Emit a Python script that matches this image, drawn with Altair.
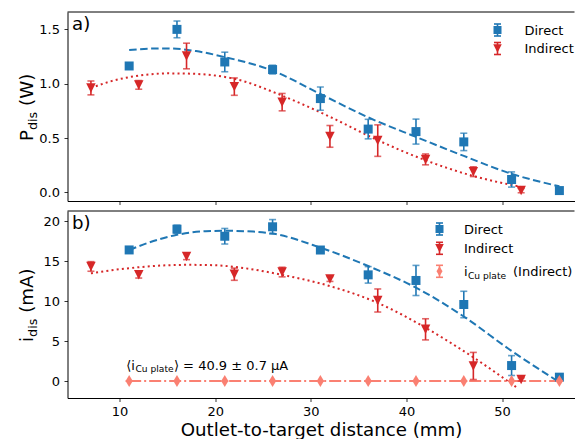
import altair as alt
import pandas as pd

FONT = "DejaVu Sans"
BLUE = "#1f77b4"
RED = "#d62728"
SALMON = "#fa8072"

# ---------------- data ----------------
x_direct = [11, 16, 21, 26, 31, 36, 41, 46, 51, 56]
x_indirect = [7, 12, 17, 22, 27, 32, 37, 42, 47, 52]
x_cu = [11, 16, 21, 26, 31, 36, 41, 46, 51, 56]

P_direct = [1.163, 1.50, 1.20, 1.13, 0.863, 0.582, 0.559, 0.464, 0.118, 0.016]
P_direct_err = [0.02, 0.077, 0.09, 0.04, 0.107, 0.09, 0.115, 0.08, 0.07, 0.015]
P_indirect = [0.961, 0.989, 1.255, 0.973, 0.83, 0.515, 0.476, 0.303, 0.19, 0.016]
P_indirect_err = [0.064, 0.04, 0.118, 0.08, 0.08, 0.1, 0.145, 0.05, 0.045, 0.02]

I_direct = [16.41, 19.0, 18.12, 19.3, 16.4, 13.3, 12.6, 9.6, 1.98, 0.53]
I_direct_err = [0.3, 0.5, 0.97, 0.9, 0.4, 1.03, 1.88, 1.65, 1.24, 0.2]
I_indirect = [14.35, 13.3, 15.6, 13.38, 13.65, 12.78, 10.1, 6.5, 1.93, 0.25]
I_indirect_err = [0.6, 0.4, 0.4, 0.76, 0.6, 0.3, 1.44, 1.32, 1.69, 0.2]
I_cu = [0.0409, 0.0409, 0.0409, 0.0409, 0.0409, 0.0409, 0.0409, 0.0409, 0.0409, 0.0409]
I_cu_err = [0.0007, 0.0007, 0.0007, 0.0007, 0.0007, 0.0007, 0.0007, 0.0007, 0.0007, 0.0007]

fitP_direct_x = [11, 13, 15, 18, 21, 26, 31, 36, 41, 46, 51, 56]
fitP_direct_y = [1.31, 1.322, 1.325, 1.30, 1.245, 1.12, 0.905, 0.69, 0.51, 0.335, 0.17, 0.055]
fitP_indirect_x = [7, 9, 11, 13, 15, 17, 20, 22, 27, 32, 37, 42, 47, 52]
fitP_indirect_y = [0.96, 1.02, 1.06, 1.085, 1.095, 1.093, 1.075, 1.045, 0.89, 0.695, 0.48, 0.295, 0.15, 0.05]
fitI_direct_x = [11, 13, 16, 19, 21, 24, 26, 31, 36, 41, 46, 51, 56]
fitI_direct_y = [16.4, 17.3, 18.3, 18.75, 18.8, 18.7, 18.45, 16.7, 14.4, 11.7, 8.1, 3.8, -0.1]
fitI_indirect_x = [7, 10, 12, 15, 17, 20, 22, 27, 32, 37, 42, 47, 51.7]
fitI_indirect_y = [13.5, 14.0, 14.25, 14.5, 14.55, 14.5, 14.3, 13.3, 11.9, 9.8, 6.7, 3.0, -0.9]

x_ticks = [10, 20, 30, 40, 50]
P_ticks = [0.0, 0.5, 1.0, 1.5]
I_ticks = [0, 5, 10, 15, 20]

# ---------------- layout ----------------
W = 507
H1 = 189
H2 = 187
TRI = "M-1,-1L1,-1L0,1Z"
THIN_DIAMOND = "M0,-1L0.6,0L0,1L-0.6,0Z"

xscale = alt.Scale(domain=[4.55, 57.58], nice=False, zero=False)
P_scale = alt.Scale(domain=[-0.08, 1.66], nice=False, zero=False)
I_scale = alt.Scale(domain=[-2.07, 21.27], nice=False, zero=False)

axis_common = dict(tickSize=3.5, tickWidth=0.8, tickColor="black", domain=True,
                   domainColor="black", domainWidth=1,
                   grid=False, labelFontSize=13, labelColor="black", labelFont=FONT)

x_axis_top = alt.Axis(values=x_ticks, labels=False, title=None, **axis_common)
x_axis_bot = alt.Axis(values=x_ticks, title="Outlet-to-target distance (mm)", labelPadding=3.5,
                      titleFontSize=18.2, titleFont=FONT, titleFontWeight="normal",
                      titleColor="black", titlePadding=3.5, **axis_common)
P_axis = alt.Axis(values=P_ticks, format=".1f", title=None, labelPadding=4.5, **axis_common)
I_axis = alt.Axis(values=I_ticks, format="d", title=None, labelPadding=4.5, **axis_common)

one = pd.DataFrame({"k": [0]})


def series_layers(xs, ys, es, color, shape, size, xaxis, yscale, yaxis):
    df = pd.DataFrame({"x": xs, "y": ys,
                       "lo": [a - b for a, b in zip(ys, es)],
                       "hi": [a + b for a, b in zip(ys, es)]})
    base = alt.Chart(df)
    X = alt.X("x:Q", scale=xscale, axis=xaxis)
    rule = base.mark_rule(color=color, strokeWidth=1.6).encode(
        x=X, y=alt.Y("lo:Q", scale=yscale, axis=yaxis), y2="hi:Q")
    cap_lo = base.mark_tick(color=color, orient="horizontal", size=7, thickness=1.6).encode(
        x=X, y=alt.Y("lo:Q", scale=yscale, axis=yaxis))
    cap_hi = base.mark_tick(color=color, orient="horizontal", size=7, thickness=1.6).encode(
        x=X, y=alt.Y("hi:Q", scale=yscale, axis=yaxis))
    pts = base.mark_point(shape=shape, filled=True, size=size, color=color, opacity=1).encode(
        x=X, y=alt.Y("y:Q", scale=yscale, axis=yaxis))
    return [rule, cap_lo, cap_hi, pts]


def fit_layer(xs, ys, color, dash, xaxis, yscale, yaxis):
    df = pd.DataFrame({"x": xs, "y": ys})
    return alt.Chart(df).mark_line(color=color, strokeWidth=2, strokeDash=dash,
                                   interpolate="monotone").encode(
        x=alt.X("x:Q", scale=xscale, axis=xaxis),
        y=alt.Y("y:Q", scale=yscale, axis=yaxis))


def legend_entry(xs, y, color, shape, size):
    c = alt.Chart(one)
    return [
        c.mark_rule(color=color, strokeWidth=1.6).encode(x=alt.value(xs), y=alt.value(y - 6), y2=alt.value(y + 6)),
        c.mark_rule(color=color, strokeWidth=1.6).encode(x=alt.value(xs - 3.5), x2=alt.value(xs + 3.5), y=alt.value(y - 6)),
        c.mark_rule(color=color, strokeWidth=1.6).encode(x=alt.value(xs - 3.5), x2=alt.value(xs + 3.5), y=alt.value(y + 6)),
        c.mark_point(shape=shape, filled=True, size=size, color=color, opacity=1).encode(x=alt.value(xs), y=alt.value(y)),
    ]


def txt(s, x, y, size=13, align="left", baseline="alphabetic", angle=0, dx=0, dy=0):
    return alt.Chart(one).mark_text(text=s, font=FONT, fontSize=size, color="black", align=align,
                                    baseline=baseline, angle=angle, dx=dx, dy=dy).encode(
        x=alt.value(x), y=alt.value(y))


def top_border():
    return alt.Chart(one).mark_rule(color="black", strokeWidth=1).encode(
        x=alt.value(0), x2=alt.value(W), y=alt.value(0))


# ---------------- top panel ----------------
top_layers = []
top_layers.append(fit_layer(fitP_direct_x, fitP_direct_y, BLUE, [7.5, 3.5], x_axis_top, P_scale, P_axis))
top_layers.append(fit_layer(fitP_indirect_x, fitP_indirect_y, RED, [2, 3.2], x_axis_top, P_scale, P_axis))
top_layers += series_layers(x_direct, P_direct, P_direct_err, BLUE, "square", 81, x_axis_top, P_scale, P_axis)
top_layers += series_layers(x_indirect, P_indirect, P_indirect_err, RED, TRI, 90, x_axis_top, P_scale, P_axis)
top_layers += legend_entry(430, 18, BLUE, "square", 64)
top_layers += legend_entry(430, 36.5, RED, TRI, 72)
top_layers.append(txt("Direct", 457, 22.7))
top_layers.append(txt("Indirect", 457, 41.2))
top_layers.append(txt("a)", 4.5, 17.6, size=18.2))
top_layers.append(top_border())
# y title  P_dis (W)
top_layers.append(txt("P", -34.5, 129, size=18.2, angle=270))
top_layers.append(txt("dis", -34.5, 129, size=12.7, angle=270, dx=11.0, dy=3.5))
top_layers.append(txt("(W)", -34.5, 129, size=18.2, angle=270, dx=35.1))

top = alt.layer(*top_layers).properties(width=W, height=H1)

# ---------------- bottom panel ----------------
bl = []
bl.append(fit_layer(fitI_direct_x, fitI_direct_y, BLUE, [7.5, 3.5], x_axis_bot, I_scale, I_axis))
bl.append(fit_layer(fitI_indirect_x, fitI_indirect_y, RED, [2, 3.2], x_axis_bot, I_scale, I_axis))
bl.append(fit_layer(x_cu, I_cu, SALMON, [12, 3, 2, 3], x_axis_bot, I_scale, I_axis))
bl += series_layers(x_direct, I_direct, I_direct_err, BLUE, "square", 81, x_axis_bot, I_scale, I_axis)
bl += series_layers(x_indirect, I_indirect, I_indirect_err, RED, TRI, 90, x_axis_bot, I_scale, I_axis)
bl += series_layers(x_cu, I_cu, I_cu_err, SALMON, THIN_DIAMOND, 144, x_axis_bot, I_scale, I_axis)
bl += legend_entry(372, 18, BLUE, "square", 64)
bl += legend_entry(372, 37.3, RED, TRI, 72)
bl += legend_entry(372, 60.3, SALMON, THIN_DIAMOND, 100)
bl.append(txt("Direct", 396.5, 22.7))
bl.append(txt("Indirect", 396.5, 42))
bl.append(txt("i", 396.5, 65))
bl.append(txt("Cu plate", 400.5, 67.5, size=9.1))
bl.append(txt("(Indirect)", 445.5, 65))
bl.append(txt("b)", 4.5, 17.6, size=18.2))
bl.append(top_border())
# y title  i_dis (mA)
bl.append(txt("i", -34.5, 131, size=18.2, angle=270))
bl.append(txt("dis", -34.5, 131, size=12.7, angle=270, dx=5.1, dy=3.5))
bl.append(txt("(mA)", -34.5, 131, size=18.2, angle=270, dx=29.2))
# annotation  <i_Cu plate> = 40.9 ± 0.7 μA
ann = pd.DataFrame({"x": [10.69], "y": [1.48]})


def ann_text(s, size, dx, dy):
    return alt.Chart(ann).mark_text(text=s, font=FONT, fontSize=size, color="black", align="left",
                                    baseline="alphabetic", dx=dx, dy=dy).encode(
        x=alt.X("x:Q", scale=xscale, axis=x_axis_bot),
        y=alt.Y("y:Q", scale=I_scale, axis=I_axis))


bl.append(ann_text("\u27e8i", 13, 0, 0))
bl.append(ann_text("Cu plate", 9.1, 9.3, 2.3))
bl.append(ann_text("\u27e9 = 40.9 \u00b1 0.7 \u03bcA", 13, 47.7, 0))

bottom = alt.layer(*bl).properties(width=W, height=H2)

chart = alt.vconcat(top, bottom, spacing=5).properties(
    padding={"left": 9.5, "top": 3, "right": 0, "bottom": 0}
).configure(font=FONT).configure_view(stroke=None)

chart.save("out.html", embed_options={"renderer": "svg", "actions": False})
